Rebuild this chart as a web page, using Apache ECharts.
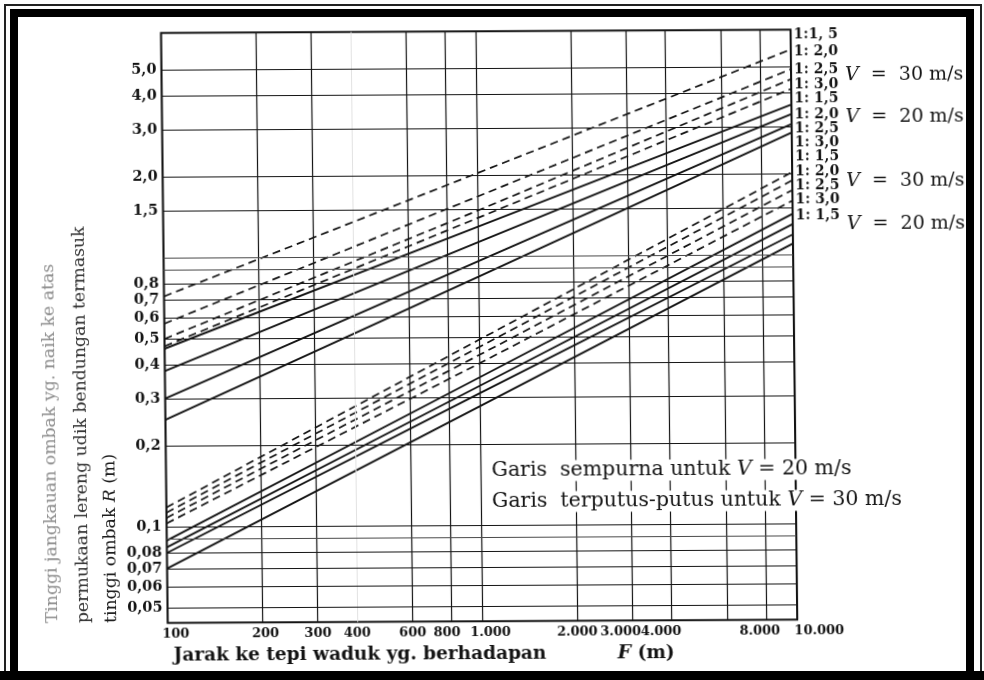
<!DOCTYPE html>
<html><head><meta charset="utf-8">
<script src="https://cdn.jsdelivr.net/npm/echarts@6/dist/echarts.min.js"></script>
<style>
html,body{margin:0;padding:0;background:#fff;width:984px;height:680px;overflow:hidden;}
#chart{position:absolute;left:0;top:0;width:984px;height:680px;transform-origin:492px 340px;transform:skewX(0.65deg) skewY(-0.3deg);}
#outer{position:absolute;left:4px;top:4px;width:978px;height:690px;box-sizing:border-box;border:2px solid #222;pointer-events:none;}
#thick{position:absolute;left:10px;top:9px;width:964px;height:700px;box-sizing:border-box;border:8px solid #000;pointer-events:none;}
#bottomband{position:absolute;left:0;top:671px;width:984px;height:9px;background:#000;}
</style></head>
<body>
<div id="chart"></div>
<div id="outer"></div>
<div id="thick"></div>
<div id="bottomband"></div>
<script>
// ---- data ----
const distances = [100, 1000, 10000];
// upper family, V = 30 m/s (dashed)
const upV30s15 = [0.72, 2.04, 5.8];
const upV30s20 = [0.57, 1.67, 4.9];
const upV30s25 = [0.50, 1.48, 4.5];
const upV30s30 = [0.47, 1.39, 4.14];
// upper family, V = 20 m/s (solid)
const upV20s15 = [0.46, 1.29, 3.62];
const upV20s20 = [0.38, 1.13, 3.34];
const upV20s25 = [0.30, 0.96, 3.06];
const upV20s30 = [0.25, 0.84, 2.85];
// lower family, V = 30 m/s (dashed)
const loV30s15 = [0.118, 0.49, 2.03];
const loV30s20 = [0.113, 0.46, 1.89];
const loV30s25 = [0.108, 0.43, 1.74];
const loV30s30 = [0.103, 0.40, 1.59];
// lower family, V = 20 m/s (solid)
const loV20s15 = [0.089, 0.355, 1.42];
const loV20s20 = [0.084, 0.33, 1.30];
const loV20s25 = [0.080, 0.31, 1.19];
const loV20s30 = [0.070, 0.277, 1.10];

const xGridValues = [100, 200, 300, 400, 600, 800, 1000, 2000, 3000, 4000, 6000, 8000, 10000];
const xTickLabels = ['100', '200', '300', '400', '600', '800', '1.000', '2.000', '3.000', '4.000', '', '8.000', '10.000'];
const yGridValues = [5, 4, 3, 2, 1.5, 1.0, 0.9, 0.8, 0.7, 0.6, 0.5, 0.4, 0.3, 0.2, 0.1, 0.09, 0.08, 0.07, 0.06, 0.05];
const yTickLabels = ['5,0', '4,0', '3,0', '2,0', '1,5', '', '', '0,8', '0,7', '0,6', '0,5', '0,4', '0,3', '0,2', '0,1', '', '0,08', '0,07', '0,06', '0,05'];

const dashedSets = [upV30s15, upV30s20, upV30s25, upV30s30, loV30s15, loV30s20, loV30s25, loV30s30];
const solidSets = [upV20s15, upV20s20, upV20s25, upV20s30, loV20s15, loV20s20, loV20s25, loV20s30];

// ---- chart ----
const chart = echarts.init(document.getElementById('chart'), null, {renderer: 'canvas'});
const INK = '#141414';
const SERIF = 'DejaVu Serif';

function mkSeries(vals, dashed) {
  return {
    type: 'line', silent: true, animation: false, symbol: 'none', showSymbol: false, z: 3,
    data: distances.map((f, i) => [f, vals[i]]),
    lineStyle: {color: INK, width: dashed ? 1.7 : 1.9, type: dashed ? [8, 5] : 'solid'}
  };
}

const xLabelShift = {100: 8, 200: 3, 800: -5, 1000: 8, 3000: -12, 4000: -11, 8000: -7, 10000: 22};
const gridLine = {color: INK, width: 1.2, type: 'solid'};
const xLines = xGridValues.map((v, i) => ({
  xAxis: v,
  lineStyle: Object.assign({}, gridLine, v === 400 ? {color: '#e2e2e2', width: 1} : {}),
  label: {show: xTickLabels[i] !== '', formatter: xTickLabels[i], position: 'start', distance: 5,
          fontFamily: SERIF, fontWeight: 'bold', fontSize: 13, color: INK,
          offset: [xLabelShift[v] || 0, 0]}
}));
const yLines = yGridValues.map((v, i) => ({
  yAxis: v,
  lineStyle: Object.assign({}, gridLine, (v === 1.0 || v === 0.9 || v === 0.09) ? {color: '#4a4a4a', width: 1.1} : {}),
  label: {show: yTickLabels[i] !== '', formatter: yTickLabels[i], position: 'start', distance: 5,
          fontFamily: SERIF, fontWeight: 'bold', fontSize: 14.5, color: INK}
}));

const series = [{
  type: 'line', silent: true, animation: false, symbol: 'none', z: 2,
  data: [[100, 0.05]], lineStyle: {opacity: 0},
  markLine: {
    silent: true, animation: false, symbol: ['none', 'none'],
    emphasis: {disabled: true},
    data: xLines.concat(yLines)
  }
}];
dashedSets.forEach(s => series.push(mkSeries(s, true)));
solidSets.forEach(s => series.push(mkSeries(s, false)));

// ---- annotation texts ----
const g = [];
const rightLabels = [
  ['1:1, 5', 36], ['1: 2,0', 53], ['1: 2,5', 71], ['1: 3,0', 86], ['1: 1,5', 100], ['1: 2,0', 116],
  ['1: 2,5', 130], ['1: 3,0', 144], ['1: 1,5', 158], ['1: 2,0', 173], ['1: 2,5', 187], ['1: 3,0', 201], ['1: 1,5', 217]
];
rightLabels.forEach(([t, y]) => g.push({type: 'text', x: 797, y: y, z: 50,
  style: {text: t, font: 'bold 14px "DejaVu Serif"', fill: INK, textVerticalAlign: 'middle'}}));
const vLabels = [['30', 77], ['20', 119], ['30', 183], ['20', 226]];
vLabels.forEach(([v, y]) => g.push({type: 'text', x: 848, y: y, z: 50,
  style: {text: '{i|V}  =  ' + v + ' m/s', font: '19px "DejaVu Serif"', fill: INK, textVerticalAlign: 'middle',
          rich: {i: {fontStyle: 'italic', fontFamily: SERIF, fontSize: 19, fill: INK}}}}));

// y-axis title (rotated, reads bottom to top)
const yTitles = [
  ['Tinggi jangkauan ombak yg. naik ke atas', 50, '#8e8e8e'],
  ['permukaan lereng udik bendungan termasuk', 81, '#333333'],
  ['{n|tinggi ombak }{i|R}{n| (m)}', 109, '#1c1c1c']
];
yTitles.forEach(([t, x, c]) => g.push({type: 'text', x: x, y: 621, rotation: Math.PI / 2, z: 50,
  style: {text: t, fill: c, font: '17.3px "DejaVu Serif"', textAlign: 'left', textVerticalAlign: 'middle',
          rich: {n: {fontFamily: SERIF, fontSize: 17.3, fill: c}, i: {fontFamily: SERIF, fontStyle: 'italic', fontSize: 17.3, fill: c}}}}));

// x-axis title
g.push({type: 'text', x: 170, y: 654, z: 50, style: {text: 'Jarak ke tepi waduk yg. berhadapan', font: 'bold 18.5px "DejaVu Serif"', fill: INK, textVerticalAlign: 'middle'}});
g.push({type: 'text', x: 614, y: 654, z: 50, style: {text: '{i|F} (m)', font: 'bold 18.5px "DejaVu Serif"', fill: INK, textVerticalAlign: 'middle',
  rich: {i: {fontStyle: 'italic', fontWeight: 'bold', fontFamily: SERIF, fontSize: 19, fill: INK}}}});

// line-style note inside the plot (white box interrupts the grid)
const notes = [['Garis  sempurna untuk ', '20', 471], ['Garis  terputus-putus untuk ', '30', 502]];
notes.forEach(([t, v, y]) => g.push({type: 'text', x: 487, y: y, z: 100,
  style: {text: t + '{i|V} = ' + v + ' m/s', font: '20.5px "DejaVu Serif"', fill: INK, backgroundColor: '#ffffff', padding: [0, 3],
          textVerticalAlign: 'middle',
          rich: {i: {fontStyle: 'italic', fontFamily: SERIF, fontSize: 20.5, fill: INK}}}}));

chart.setOption({
  animation: false,
  backgroundColor: 'transparent',
  grid: {left: 164.5, right: 190, top: 31.3, bottom: 58.7, show: true, borderColor: INK, borderWidth: 2, backgroundColor: 'transparent'},
  xAxis: {type: 'log', logBase: 10, min: 100, max: 10000, axisLine: {show: false}, axisTick: {show: false}, axisLabel: {show: false}, splitLine: {show: false}},
  yAxis: {type: 'log', logBase: 10, min: 0.0439, max: 6.87, axisLine: {show: false}, axisTick: {show: false}, axisLabel: {show: false}, splitLine: {show: false}},
  series: series,
  graphic: g
});
</script>
</body></html>
